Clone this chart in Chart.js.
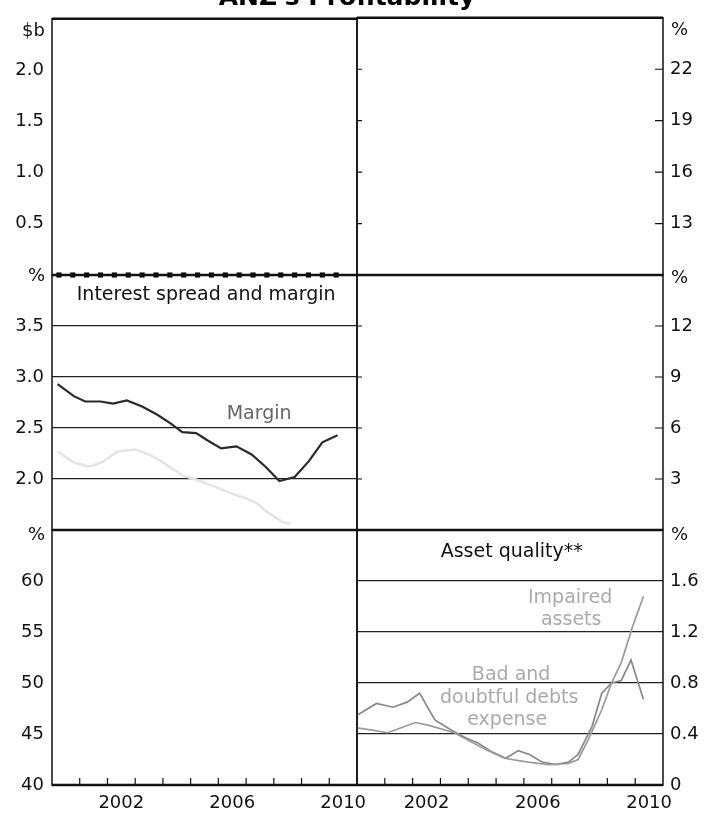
<!DOCTYPE html>
<html>
<head>
<meta charset="utf-8">
<script src="https://cdn.jsdelivr.net/npm/chart.js@4.4.1/dist/chart.umd.min.js"></script>
<style>
  html, body { margin: 0; padding: 0; background: #fff; width: 706px; height: 815px; overflow: hidden; }
  canvas { position: absolute; left: 0; top: 0; }
</style>
</head>
<body>
<canvas id="c1" width="706" height="815"></canvas>
<canvas id="c2" width="706" height="815"></canvas>
<canvas id="c3" width="706" height="815"></canvas>
<canvas id="c4" width="706" height="815"></canvas>
<canvas id="c5" width="706" height="815"></canvas>
<canvas id="c6" width="706" height="815"></canvas>
<script>
// ANZ's profitability - six panels, most series faded out in the source

const labelYears = [2002, 2006, 2010];
const tickYears = [2001, 2002, 2003, 2004, 2005, 2006, 2007, 2008, 2009, 2010];

// profits panel ($b) - only the zero markers survive
const profitYears = [2000.25, 2000.75, 2001.25, 2001.75, 2002.25, 2002.75, 2003.25, 2003.75, 2004.25, 2004.75, 2005.25,
  2005.75, 2006.25, 2006.75, 2007.25, 2007.75, 2008.25, 2008.75, 2009.25, 2009.75, 2010.25];
const profitVals = [0, 0, 0, 0, 0, 0, 0, 0, 0, 0, 0, 0, 0, 0, 0, 0, 0, 0, 0, 0, 0];
const profitTicks = [0.5, 1.0, 1.5, 2.0];
const roeTicks = [13, 16, 19, 22];

// interest spread and margin (%)
const marginYears = [2000.2, 2000.8, 2001.2, 2001.75, 2002.2, 2002.7, 2003.25, 2003.8, 2004.3, 2004.7, 2005.2,
  2005.6, 2006.1, 2006.65, 2007.2, 2007.7, 2008.2, 2008.75, 2009.25, 2009.75, 2010.3];
const marginVals = [2.93, 2.81, 2.76, 2.76, 2.74, 2.77, 2.71, 2.63, 2.54, 2.46, 2.45,
  2.38, 2.30, 2.32, 2.24, 2.12, 1.98, 2.02, 2.17, 2.36, 2.43];
const spreadYears = [2000.2, 2000.8, 2001.35, 2001.85, 2002.35, 2003.0, 2003.5, 2003.9, 2004.4, 2004.75,
  2005.25, 2005.6, 2006.1, 2006.45, 2007.0, 2007.4, 2007.75, 2008.3, 2008.6];
const spreadVals = [2.27, 2.16, 2.12, 2.17, 2.27, 2.29, 2.24, 2.18, 2.09, 2.03,
  1.99, 1.95, 1.90, 1.86, 1.81, 1.76, 1.68, 1.58, 1.56];
const marginTicks = [2.0, 2.5, 3.0, 3.5];
const midRightTicks = [3, 6, 9, 12];

// cost to income (%) - faded out
const costTicks = [40, 45, 50, 55, 60];

// asset quality (%)
const badDebtYears = [1999.95, 2000.7, 2001.3, 2001.8, 2002.25, 2002.8, 2003.4, 2003.9, 2004.35, 2004.85, 2005.35,
  2005.8, 2006.2, 2006.65, 2007.15, 2007.6, 2007.95, 2008.45, 2008.8, 2009.15, 2009.5, 2009.85, 2010.3];
const badDebtVals = [0.54, 0.64, 0.61, 0.65, 0.72, 0.51, 0.43, 0.37, 0.33, 0.26, 0.21,
  0.27, 0.24, 0.18, 0.16, 0.18, 0.24, 0.46, 0.72, 0.80, 0.82, 0.98, 0.67];
const impairedYears = [1999.95, 2000.55, 2001.1, 2002.1, 2002.55, 2003.5, 2004.0, 2004.7, 2005.3, 2006.15,
  2006.9, 2007.6, 2007.95, 2008.3, 2008.8, 2009.15, 2009.5, 2009.9, 2010.3];
const impairedVals = [0.45, 0.43, 0.41, 0.49, 0.47, 0.41, 0.35, 0.27, 0.21, 0.18,
  0.16, 0.17, 0.20, 0.35, 0.59, 0.80, 0.96, 1.24, 1.48];
const assetTicks = [0, 0.4, 0.8, 1.2, 1.6];

const FONT = 'DejaVu Sans';
const pts = (xs, ys) => xs.map((x, i) => ({ x: x, y: ys[i] }));

// frame, inward ticks, unit labels and text notes
const framePlugin = {
  id: 'frame',
  afterDraw(chart, args, o) {
    const { ctx, chartArea: a, scales } = chart;
    ctx.save();
    ctx.strokeStyle = '#111';
    ctx.lineWidth = 1.5;
    ctx.strokeRect(a.left, a.top, a.right - a.left, a.bottom - a.top);
    ctx.lineWidth = 2.6;
    ctx.beginPath();
    ctx.moveTo(a.left, a.top); ctx.lineTo(a.right, a.top);
    if (o.xLabels) { ctx.moveTo(a.left, a.bottom); ctx.lineTo(a.right, a.bottom); }
    ctx.stroke();

    ctx.lineWidth = 1.2;
    ctx.beginPath();
    if (o.sideTicks) {
      scales.y.ticks.forEach(t => {
        const py = scales.y.getPixelForValue(t.value);
        ctx.moveTo(a.left, py); ctx.lineTo(a.left + 5, py);
        ctx.moveTo(a.right, py); ctx.lineTo(a.right - 8, py);
      });
    }
    if (o.xLabels) {
      tickYears.forEach(y => {
        const px = scales.x.getPixelForValue(y);
        ctx.moveTo(px, a.bottom); ctx.lineTo(px, a.bottom - 7);
      });
    }
    ctx.stroke();

    ctx.fillStyle = '#111';
    ctx.textBaseline = 'middle';
    ctx.font = '18px "' + FONT + '"';
    if (o.side === 'left') {
      ctx.textAlign = 'right';
      ctx.fillText(o.unit, a.left - 7, a.top + o.unitOff);
    } else {
      ctx.textAlign = 'left';
      ctx.fillText(o.unit, a.right + 8, a.top + o.unitOff);
    }

    ctx.textAlign = 'center';
    ctx.font = '19px "' + FONT + '"';
    (o.notes || []).forEach(n => {
      ctx.fillStyle = n.color;
      ctx.fillText(n.text, scales.x.getPixelForValue(n.x), scales.y.getPixelForValue(n.y));
    });

    if (o.title) {
      ctx.fillStyle = '#000';
      ctx.textBaseline = 'alphabetic';
      ctx.font = 'bold 25px "' + FONT + '"';
      ctx.fillText(o.title, 347, 5);
    }
    ctx.restore();
  }
};

function panel(id, p) {
  const left = p.side === 'left';
  return new Chart(document.getElementById(id), {
    type: 'line',
    data: { datasets: p.datasets },
    options: {
      responsive: false,
      animation: false,
      layout: { padding: {
        left: left ? 0 : 357, right: left ? 349 : 0,
        top: p.top, bottom: p.xLabels ? 0 : 815 - p.bottom
      } },
      plugins: {
        legend: { display: false },
        tooltip: { enabled: false },
        frame: { side: p.side, unit: p.unit, unitOff: p.unitOff, notes: p.notes,
                 sideTicks: p.sideTicks, xLabels: p.xLabels, title: p.title }
      },
      scales: {
        x: {
          type: 'linear', min: 2000, max: 2011,
          display: !!p.xLabels,
          afterFit(s) { s.height = p.xLabels ? 30 : 0; },
          afterBuildTicks(s) { s.ticks = labelYears.map(y => ({ value: y + 0.5 })); },
          grid: { display: false, drawTicks: false },
          border: { display: false },
          ticks: {
            padding: 8, maxRotation: 0, autoSkip: false,
            color: '#111', font: { family: FONT, size: 18 },
            callback: v => String(Math.floor(v))
          }
        },
        y: {
          position: p.side, min: p.min, max: p.max,
          afterFit(s) { s.width = left ? 52 : 43; },
          afterBuildTicks(s) { s.ticks = p.ticks.map(v => ({ value: v })); },
          grid: {
            display: !!p.grid, drawTicks: false, lineWidth: 1.3,
            color: c => (c.tick && c.tick.value === p.min) ? 'rgba(0,0,0,0)' : '#222'
          },
          border: { display: false },
          ticks: {
            padding: left ? 8 : 7, color: '#111', font: { family: FONT, size: 18 },
            callback: p.fmt
          }
        }
      }
    },
    plugins: [framePlugin]
  });
}

const fmt1 = v => v.toFixed(1);
const fmtAsset = v => v === 0 ? '0' : v.toFixed(1);

// row 1
panel('c1', {
  side: 'left', top: 17, bottom: 275, min: 0, max: 2.5, ticks: profitTicks, fmt: fmt1,
  unit: '$b', unitOff: 13, title: "ANZ's Profitability",
  datasets: [{
    data: pts(profitYears, profitVals), showLine: false, clip: false,
    pointStyle: 'rect', pointRadius: 3.6, pointBackgroundColor: '#000', pointBorderWidth: 0
  }]
});
panel('c2', {
  side: 'right', top: 17, bottom: 275, min: 10, max: 25, ticks: roeTicks, fmt: v => String(v),
  unit: '%', unitOff: 13, sideTicks: true, datasets: []
});

// row 2
panel('c3', {
  side: 'left', top: 275, bottom: 530, min: 1.5, max: 4.0, ticks: marginTicks, fmt: fmt1, grid: true,
  unit: '%', unitOff: 1,
  notes: [
    { text: 'Interest spread and margin', x: 2005.56, y: 3.80, color: '#111' },
    { text: 'Margin', x: 2007.47, y: 2.64, color: '#666' }
  ],
  datasets: [
    { data: pts(spreadYears, spreadVals), borderColor: '#e4e4e4', borderWidth: 2.5, pointRadius: 0, tension: 0 },
    { data: pts(marginYears, marginVals), borderColor: '#2a2a2a', borderWidth: 2.2, pointRadius: 0, tension: 0 }
  ]
});
panel('c4', {
  side: 'right', top: 275, bottom: 530, min: 0, max: 15, ticks: midRightTicks, fmt: v => String(v),
  unit: '%', unitOff: 3, sideTicks: true, datasets: []
});

// row 3
panel('c5', {
  side: 'left', top: 530, bottom: 785, min: 40, max: 65, ticks: costTicks, fmt: v => String(v),
  unit: '%', unitOff: 5, xLabels: true, datasets: []
});
panel('c6', {
  side: 'right', top: 530, bottom: 785, min: 0, max: 2.0, ticks: assetTicks, fmt: fmtAsset, grid: true,
  unit: '%', unitOff: 5, xLabels: true,
  notes: [
    { text: 'Asset quality**', x: 2005.56, y: 1.83, color: '#111' },
    { text: 'Impaired', x: 2007.66, y: 1.47, color: '#aaa' },
    { text: 'assets', x: 2007.7, y: 1.29, color: '#aaa' },
    { text: 'Bad and', x: 2005.54, y: 0.86, color: '#aaa' },
    { text: 'doubtful debts', x: 2005.47, y: 0.68, color: '#aaa' },
    { text: 'expense', x: 2005.4, y: 0.51, color: '#aaa' }
  ],
  datasets: [
    { data: pts(impairedYears, impairedVals), borderColor: '#9a9a9a', borderWidth: 1.7, pointRadius: 0, tension: 0 },
    { data: pts(badDebtYears, badDebtVals), borderColor: '#888', borderWidth: 1.7, pointRadius: 0, tension: 0 }
  ]
});
</script>
</body>
</html>
